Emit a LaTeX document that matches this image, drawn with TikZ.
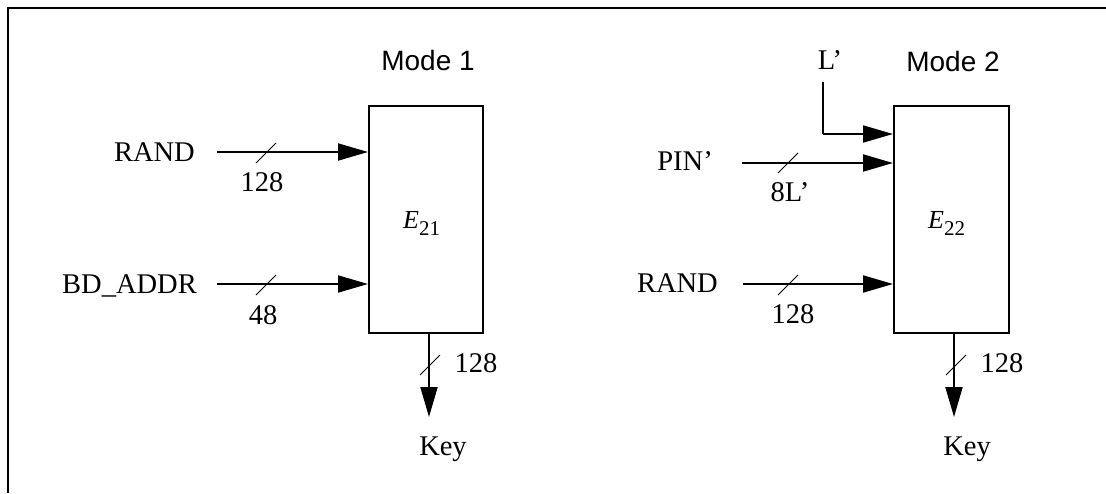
\documentclass[tikz,border=0pt]{standalone}
\usepackage{fontspec}
\setmainfont{Liberation Serif}
\newfontfamily\arialf{Liberation Sans}
\usetikzlibrary{arrows.meta,calc}
\begin{document}
\begin{tikzpicture}[x=1pt,y=-1pt,
  txt/.style={inner sep=0pt,font=\fontsize{28.5}{30}\selectfont},
  sans/.style={inner sep=0pt,font=\arialf\fontsize{28}{30}\selectfont},
  blk/.style={draw,line width=2pt,minimum width=114pt,minimum height=227pt,inner sep=0pt},
  arr/.style={line width=2pt,-{Triangle[length=30pt,width=17pt]}},
  bus/.style={line width=1pt},
  frame/.style={line width=2.2pt}]
\useasboundingbox (0,0) rectangle (1106,493);
% frame
\coordinate (f1) at (8,493);
\coordinate (f2) at (8,8);
\coordinate (f3) at (1106,8);
\draw[frame] (f1) -- (f2) -- (f3);

% ---------- Mode 1 ----------
\node[sans,anchor=base] (m1) at (428,70) {Mode 1};
\node[blk] (b1) at (426,219.5) {};
\node[inner sep=0pt,anchor=base west] (e1) at (403,228) {\fontsize{26}{28}\selectfont\itshape E\/\raisebox{-7pt}{\fontsize{21}{22}\selectfont\upshape 21}};

\node[txt,anchor=base east] (rand1) at (195,161) {RAND};
\coordinate (r1s) at (217,152);
\draw[arr] (r1s) -- (r1s -| b1.west);
\coordinate (r1c) at (266,153);
\draw[bus] ($(r1c)+(-10,10)$) -- ($(r1c)+(10,-10)$);
\node[txt,anchor=base] (l128a) at (262,191) {128};

\node[txt,anchor=base east] (bd) at (197,293) {BD\_ADDR};
\coordinate (bds) at (217,284);
\draw[arr] (bds) -- (bds -| b1.west);
\coordinate (bdc) at (266,285);
\draw[bus] ($(bdc)+(-10,10)$) -- ($(bdc)+(10,-10)$);
\node[txt,anchor=base] (l48) at (263,324) {48};

\coordinate (k1t) at (429,417);
\draw[arr] (b1.south -| k1t) -- (k1t);
\coordinate (k1c) at (430,365);
\draw[bus] ($(k1c)+(-10,10)$) -- ($(k1c)+(10,-10)$);
\node[txt,anchor=base] (l128b) at (476,372) {128};
\node[txt,anchor=base] (key1) at (443,455) {Key};

% ---------- Mode 2 ----------
\node[sans,anchor=base] (m2) at (953,71) {Mode 2};
\node[blk,minimum width=115pt] (b2) at (951.5,219.5) {};
\node[inner sep=0pt,anchor=base west] (e2) at (928,228) {\fontsize{26}{28}\selectfont\itshape E\/\raisebox{-7pt}{\fontsize{21}{22}\selectfont\upshape 22}};

\node[txt,anchor=base] (lp) at (830,69) {L’};
\coordinate (lps) at (823,82);
\coordinate (lpc) at (823,134);
\draw[line width=2pt] (lps) -- (lpc);
\draw[arr] (lpc) -- (lpc -| b2.west);

\node[txt,anchor=base east] (pin) at (713,170) {PIN’};
\coordinate (ps) at (742,163);
\draw[arr] (ps) -- (ps -| b2.west);
\coordinate (pc) at (788,163);
\draw[bus] ($(pc)+(-10,10)$) -- ($(pc)+(10,-10)$);
\node[txt,anchor=base] (l8l) at (790,201) {8L’};

\node[txt,anchor=base east] (rand2) at (718,292) {RAND};
\coordinate (r2s) at (743,284);
\draw[arr] (r2s) -- (r2s -| b2.west);
\coordinate (r2c) at (788,285);
\draw[bus] ($(r2c)+(-10,10)$) -- ($(r2c)+(10,-10)$);
\node[txt,anchor=base] (l128c) at (793,323) {128};

\coordinate (k2t) at (954,417);
\draw[arr] (b2.south -| k2t) -- (k2t);
\coordinate (k2c) at (956,365);
\draw[bus] ($(k2c)+(-10,10)$) -- ($(k2c)+(10,-10)$);
\node[txt,anchor=base] (l128d) at (1002,372) {128};
\node[txt,anchor=base] (key2) at (967,455) {Key};
\end{tikzpicture}
\end{document}
